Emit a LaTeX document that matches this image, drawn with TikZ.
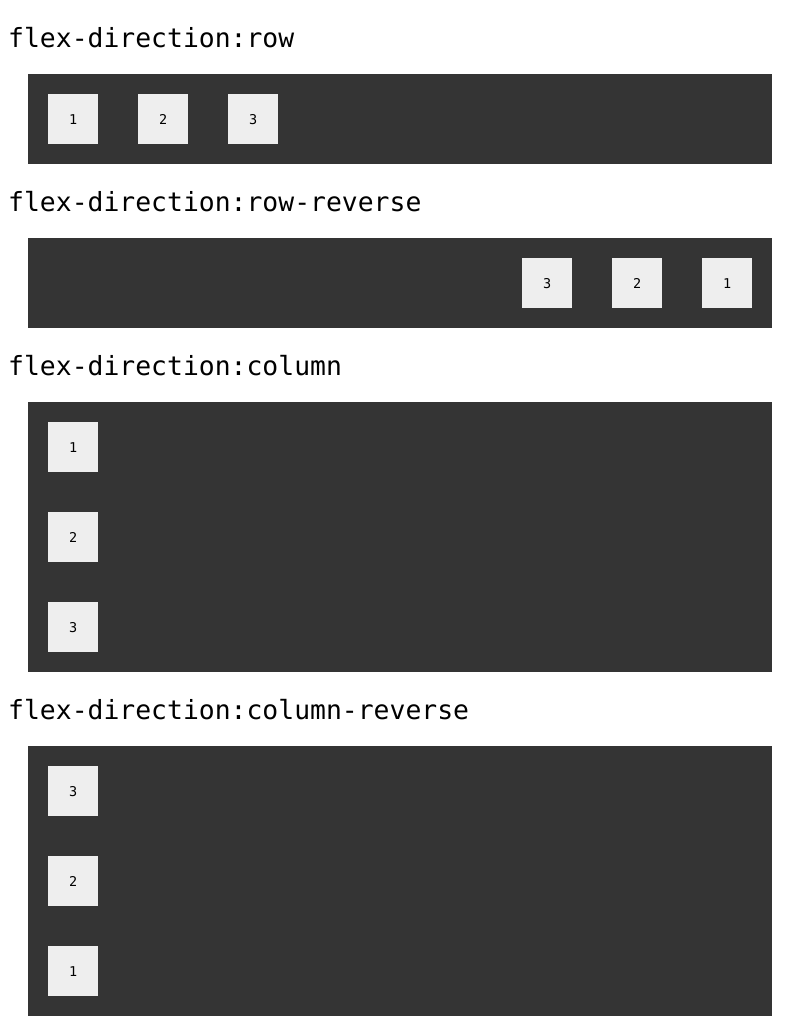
\documentclass[tikz,border=0pt]{standalone}
\usepackage{fontspec}
\setmonofont{DejaVu Sans Mono}
\definecolor{boxbg}{HTML}{343434}
\definecolor{itembg}{HTML}{EEEEEE}
\begin{document}
\begin{tikzpicture}[x=1pt,y=-1pt,
  title/.style={anchor=base west,inner sep=0pt,font=\ttfamily\fontsize{26.4}{30}\selectfont},
  container/.style={fill=boxbg,draw=none,inner sep=0pt,minimum width=744pt,anchor=north west},
  item/.style={fill=itembg,draw=none,inner sep=0pt,minimum width=50pt,minimum height=50pt,anchor=north west,font=\ttfamily\fontsize{13.5}{16}\selectfont}]
\useasboundingbox[fill=white] (0,0) rectangle (800,1036);
% row
\node[title] (t1) at (8,47) {flex-direction:row};
\node[container,minimum height=90pt] (c1) at (28,74) {};
\node[item] (r1) at (48,94) {1};
\node[item] (r2) at (138,94) {2};
\node[item] (r3) at (228,94) {3};
% row-reverse
\node[title] (t2) at (8,211) {flex-direction:row-reverse};
\node[container,minimum height=90pt] (c2) at (28,238) {};
\node[item] (rr3) at (522,258) {3};
\node[item] (rr2) at (612,258) {2};
\node[item] (rr1) at (702,258) {1};
% column
\node[title] (t3) at (8,375) {flex-direction:column};
\node[container,minimum height=270pt] (c3) at (28,402) {};
\node[item] (c1a) at (48,422) {1};
\node[item] (c2a) at (48,512) {2};
\node[item] (c3a) at (48,602) {3};
% column-reverse
\node[title] (t4) at (8,719) {flex-direction:column-reverse};
\node[container,minimum height=270pt] (c4) at (28,746) {};
\node[item] (cr3) at (48,766) {3};
\node[item] (cr2) at (48,856) {2};
\node[item] (cr1) at (48,946) {1};
\end{tikzpicture}
\end{document}
